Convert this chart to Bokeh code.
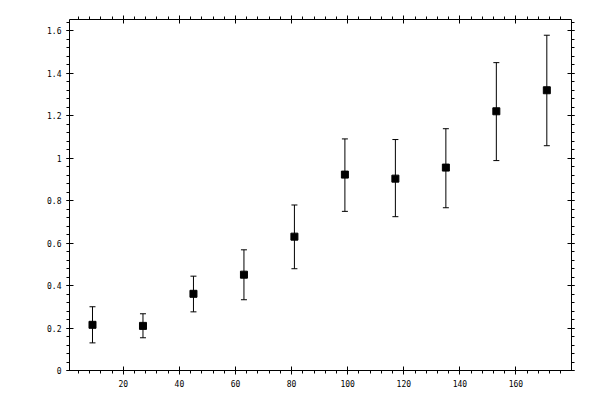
from bokeh.plotting import figure
from bokeh.models import (LinearAxis, FixedTicker, CustomJSTickFormatter,
                          ColumnDataSource, Whisker, TeeHead, Range1d)
from bokeh.embed import file_html
from bokeh.resources import INLINE
import numpy as np

x = [9, 27, 45, 63, 81, 99, 117, 135, 153, 171]
y = [0.215, 0.210, 0.361, 0.451, 0.630, 0.922, 0.903, 0.955, 1.220, 1.319]
y_upper = [0.300, 0.267, 0.444, 0.568, 0.779, 1.090, 1.087, 1.138, 1.449, 1.578]
y_lower = [0.130, 0.154, 0.276, 0.333, 0.479, 0.749, 0.724, 0.766, 0.988, 1.058]

x_ticks = [20, 40, 60, 80, 100, 120, 140, 160]
y_ticks = [0, 0.2, 0.4, 0.6, 0.8, 1.0, 1.2, 1.4, 1.6]

x_minor = [round(v, 2) for v in np.arange(0, 184, 4)]
y_minor = [round(v, 3) for v in np.arange(0, 1.68, 0.04)]

src = ColumnDataSource(data=dict(x=x, y=y, upper=y_upper, lower=y_lower))

p = figure(frame_width=502, frame_height=351,
           min_border_left=69, min_border_right=12,
           min_border_top=19, min_border_bottom=14,
           x_range=Range1d(0.8, 179.8), y_range=Range1d(0, 1.652),
           x_axis_location=None, y_axis_location=None,
           output_backend="svg", toolbar_location=None)
p.xgrid.visible = False
p.ygrid.visible = False
p.outline_line_color = None
p.background_fill_color = "white"
p.border_fill_color = "white"

fmt = CustomJSTickFormatter(code="return parseFloat(tick.toFixed(2)).toString();")
blank = CustomJSTickFormatter(code="return '';")


def make_axis(ticks, minor, labels, out_major):
    ax = LinearAxis(ticker=FixedTicker(ticks=ticks, minor_ticks=minor),
                    formatter=fmt if labels else blank)
    ax.axis_line_color = "black"
    ax.axis_line_width = 1
    ax.major_tick_line_color = "black"
    ax.minor_tick_line_color = "black"
    ax.major_tick_out = out_major
    ax.major_tick_in = 4
    ax.minor_tick_out = 3
    ax.minor_tick_in = 0
    ax.major_label_standoff = 5
    ax.major_label_text_font = "DejaVu Sans Mono"
    ax.major_label_text_font_size = "8px"
    ax.major_label_text_color = "black"
    return ax


p.add_layout(make_axis(x_ticks, x_minor, True, 4), "below")
p.add_layout(make_axis(x_ticks, x_minor, False, 4), "above")
p.add_layout(make_axis(y_ticks, y_minor, True, 3), "left")
p.add_layout(make_axis(y_ticks, y_minor, False, 3), "right")

p.add_layout(Whisker(source=src, base="x", upper="upper", lower="lower",
                     line_color="black", line_width=1,
                     upper_head=TeeHead(size=6, line_color="black", line_width=1),
                     lower_head=TeeHead(size=6, line_color="black", line_width=1)))

p.scatter("x", "y", source=src, marker="square", size=7,
          fill_color="black", line_color="black")

open("out.html", "w").write(file_html(p, INLINE))
